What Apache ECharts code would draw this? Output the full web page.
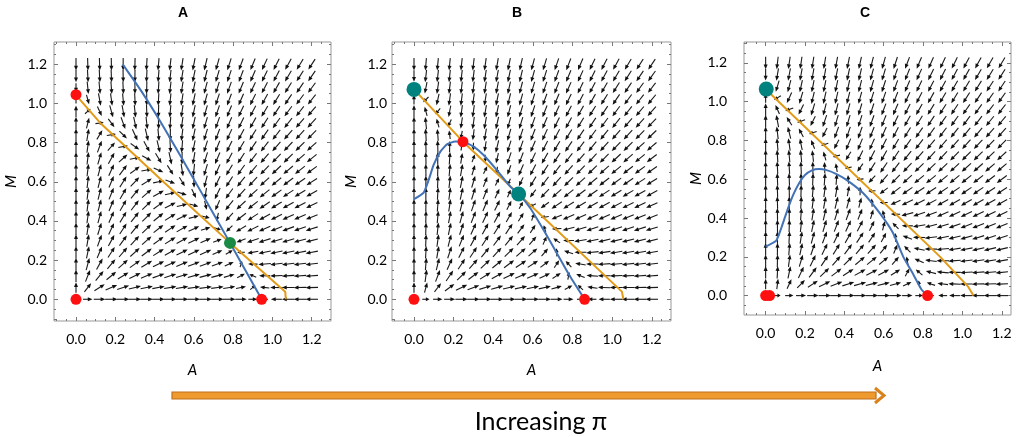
<!DOCTYPE html>
<html>
<head>
<meta charset="utf-8">
<script src="https://cdn.jsdelivr.net/npm/echarts@6/dist/echarts.min.js"></script>
<style>
html, body { margin: 0; padding: 0; background: #fff; }
#chart { width: 1021px; height: 437px; }
</style>
</head>
<body>
<div id="chart"></div>
<script>
// ticks on every side of the frames
const tickMajor = [0, 0.2, 0.4, 0.6, 0.8, 1.0, 1.2]
const tickMinor = [-0.1, -0.05, 0.05, 0.1, 0.15, 0.25, 0.3, 0.35, 0.45, 0.5, 0.55, 0.65, 0.7, 0.75, 0.85, 0.9, 0.95, 1.05, 1.1, 1.15, 1.25, 1.3]
// grid of the vector field (same steps for A and M)
const fieldSteps = [0, 0.06, 0.12, 0.18, 0.24, 0.3, 0.36, 0.42, 0.48, 0.54, 0.6, 0.66, 0.72, 0.78, 0.84, 0.9, 0.96, 1.02, 1.08, 1.14, 1.2]

// panel A
const aOrangeA = [0, 0.122, 0.45, 0.784, 1.065, 1.068]
const aOrangeM = [1.043, 0.902, 0.595, 0.288, 0.039, 0]
const aBlueA = [0.238, 0.33, 0.43, 0.53, 0.63, 0.784, 0.86, 0.945]
const aBlueM = [1.2, 1.067, 0.907, 0.735, 0.56, 0.288, 0.152, 0]
const aRedA = [0, 0, 0.945]
const aRedM = [0, 1.045, 0]
const aGreenA = [0.784]
const aGreenM = [0.288]

// panel B
const bOrangeA = [0, 0.247, 0.528, 1.049, 1.057]
const bOrangeM = [1.072, 0.805, 0.538, 0.039, 0]
const bBlueA = [0, 0.049, 0.074, 0.099, 0.133, 0.166, 0.208, 0.247, 0.301, 0.351, 0.418, 0.486, 0.528, 0.587, 0.654, 0.721, 0.788, 0.861]
const bBlueM = [0.511, 0.545, 0.609, 0.686, 0.754, 0.791, 0.806, 0.805, 0.78, 0.737, 0.66, 0.575, 0.538, 0.465, 0.354, 0.235, 0.116, 0]
const bRedA = [0, 0.247, 0.861]
const bRedM = [0, 0.805, 0]
const bTealA = [0, 0.528]
const bTealM = [1.072, 0.538]

// panel C
const cOrangeA = [0.003, 0.886, 1.03, 1.056]
const cOrangeM = [1.062, 0.201, 0.045, 0]
const cBlueA = [0, 0.054, 0.08, 0.11, 0.14, 0.17, 0.2, 0.235, 0.27, 0.31, 0.36, 0.411, 0.495, 0.58, 0.648, 0.699, 0.75, 0.793, 0.823]
const cBlueM = [0.253, 0.284, 0.35, 0.44, 0.52, 0.58, 0.622, 0.646, 0.653, 0.647, 0.627, 0.597, 0.529, 0.425, 0.322, 0.201, 0.11, 0.03, 0]
const cRedA = [0, 0.02, 0.823]
const cRedM = [0, 0, 0]
const cTealA = [0.003]
const cTealM = [1.065]

const panels = [
  { title: 'A', titleX: 183, grid: { left: 54, top: 42, width: 277, height: 279 }, xr: [-0.112, 1.298], yr: [-0.111, 1.314], yLabelMargin: 7, xNameGap: 42, yNameGap: 35,
    orange: [aOrangeA, aOrangeM], blue: [aBlueA, aBlueM], red: [aRedA, aRedM], teal: null, green: [aGreenA, aGreenM] },
  { title: 'B', titleX: 517, grid: { left: 392, top: 42, width: 279, height: 279 }, xr: [-0.111, 1.297], yr: [-0.111, 1.314], yLabelMargin: 5, xNameGap: 42, yNameGap: 33,
    orange: [bOrangeA, bOrangeM], blue: [bBlueA, bBlueM], red: [bRedA, bRedM], teal: [bTealA, bTealM], green: null },
  { title: 'C', titleX: 865, grid: { left: 744, top: 42, width: 267, height: 273 }, xr: [-0.110, 1.247], yr: [-0.100, 1.308], yLabelMargin: 17, xNameGap: 44, yNameGap: 36,
    orange: [cOrangeA, cOrangeM], blue: [cBlueA, cBlueM], red: [cRedA, cRedM], teal: [cTealA, cTealM], green: null }
]

const font = 'Lato'
const orangeColor = '#E39A17'
const blueColor = '#4272B5'

const zip = (xs, ys) => xs.map((x, i) => [x, ys[i]])

// piecewise linear along a read curve, end segments extended
function interp (xs, ys, x) {
  const n = xs.length
  let i = 1
  while (i < n - 1 && x > xs[i]) i++
  const t = (x - xs[i - 1]) / (xs[i] - xs[i - 1])
  return ys[i - 1] + t * (ys[i] - ys[i - 1])
}

// arrows: A grows below the blue nullcline, M grows below the orange one
function buildField (p) {
  const oA = p.orange[0].slice(0, -1), oM = p.orange[1].slice(0, -1)
  const data = []
  fieldSteps.forEach(a => {
    fieldSteps.forEach(m => {
      const va = a * (interp(p.blue[0], p.blue[1], a) - m)
      const vm = 2 * m * (interp(oA, oM, a) - m)
      const mag = Math.hypot(va, vm)
      if (mag < 1e-4) return
      const len = 3.5 + 9 * Math.sqrt(Math.min(1, mag / 0.2))
      data.push([a, m, va, vm, len])
    })
  })
  return data
}

function renderArrow (params, api) {
  const a = api.value(0), m = api.value(1)
  const p0 = api.coord([a, m])
  const p1 = api.coord([a + api.value(2) * 0.01, m + api.value(3) * 0.01])
  let ux = p1[0] - p0[0], uy = p1[1] - p0[1]
  const n = Math.hypot(ux, uy)
  if (!n) return
  ux /= n; uy /= n
  const len = api.value(4)
  const tail = [p0[0] - ux * len / 2, p0[1] - uy * len / 2]
  const tip = [p0[0] + ux * len / 2, p0[1] + uy * len / 2]
  const hl = Math.min(4.8, len * 0.5), hw = 2
  const base = [tip[0] - ux * hl, tip[1] - uy * hl]
  return {
    type: 'group',
    children: [
      { type: 'line', shape: { x1: tail[0], y1: tail[1], x2: base[0] + ux, y2: base[1] + uy }, style: { stroke: '#1a1a1a', lineWidth: 1.1 } },
      { type: 'polygon', shape: { points: [tip, [base[0] - uy * hw, base[1] + ux * hw], [base[0] + uy * hw, base[1] - ux * hw]] }, style: { fill: '#111' } }
    ]
  }
}

const inRange = (vals, r) => vals.filter(v => v > r[0] && v < r[1])

const grids = []
const xAxes = []
const yAxes = []
const series = []
const graphics = []

panels.forEach((p, gi) => {
  grids.push(Object.assign({ show: true, borderColor: '#999', borderWidth: 1, backgroundColor: 'transparent' }, p.grid))
  const tickStyle = { color: '#777', width: 1 }
  const common = (r) => ({ gridIndex: gi, type: 'value', min: r[0], max: r[1], axisLine: { show: false, onZero: false }, splitLine: { show: false } })
  const mainX = xAxes.length
  xAxes.push(Object.assign(common(p.xr), {
    position: 'bottom',
    axisTick: { inside: true, length: 4, lineStyle: tickStyle, customValues: tickMajor },
    axisLabel: { customValues: tickMajor, formatter: v => v.toFixed(1), margin: 11, color: '#000', fontFamily: font, fontSize: 14 },
    name: 'A', nameLocation: 'middle', nameGap: p.xNameGap,
    nameTextStyle: { fontFamily: font, fontStyle: 'italic', fontSize: 15, color: '#000' }
  }))
  xAxes.push(Object.assign(common(p.xr), { position: 'bottom', axisTick: { inside: true, length: 2, lineStyle: tickStyle, customValues: inRange(tickMinor, p.xr) }, axisLabel: { show: false } }))
  xAxes.push(Object.assign(common(p.xr), { position: 'top', axisTick: { inside: true, length: 4, lineStyle: tickStyle, customValues: tickMajor }, axisLabel: { show: false } }))
  xAxes.push(Object.assign(common(p.xr), { position: 'top', axisTick: { inside: true, length: 2, lineStyle: tickStyle, customValues: inRange(tickMinor, p.xr) }, axisLabel: { show: false } }))
  const mainY = yAxes.length
  yAxes.push(Object.assign(common(p.yr), {
    position: 'left',
    axisTick: { inside: true, length: 4, lineStyle: tickStyle, customValues: tickMajor },
    axisLabel: { customValues: tickMajor, formatter: v => v.toFixed(1), margin: p.yLabelMargin, color: '#000', fontFamily: font, fontSize: 14 },
    name: 'M', nameLocation: 'middle', nameGap: p.yNameGap,
    nameTextStyle: { fontFamily: font, fontStyle: 'italic', fontSize: 15, color: '#000' }
  }))
  yAxes.push(Object.assign(common(p.yr), { position: 'left', axisTick: { inside: true, length: 2, lineStyle: tickStyle, customValues: inRange(tickMinor, p.yr) }, axisLabel: { show: false } }))
  yAxes.push(Object.assign(common(p.yr), { position: 'right', axisTick: { inside: true, length: 4, lineStyle: tickStyle, customValues: tickMajor }, axisLabel: { show: false } }))
  yAxes.push(Object.assign(common(p.yr), { position: 'right', axisTick: { inside: true, length: 2, lineStyle: tickStyle, customValues: inRange(tickMinor, p.yr) }, axisLabel: { show: false } }))

  const ax = { xAxisIndex: mainX, yAxisIndex: mainY }
  series.push(Object.assign({ type: 'custom', renderItem: renderArrow, data: buildField(p), encode: { x: 0, y: 1 }, z: 1, silent: true }, ax))
  series.push(Object.assign({ type: 'line', data: zip(p.orange[0], p.orange[1]), showSymbol: false, lineStyle: { color: orangeColor, width: 2 }, z: 3, silent: true }, ax))
  series.push(Object.assign({ type: 'line', data: zip(p.blue[0], p.blue[1]), showSymbol: false, smooth: 0.15, lineStyle: { color: blueColor, width: 2 }, z: 3, silent: true }, ax))
  series.push(Object.assign({ type: 'scatter', data: zip(p.red[0], p.red[1]), symbolSize: 11, itemStyle: { color: '#FF1010', opacity: 1 }, z: 5 }, ax))
  if (p.teal) series.push(Object.assign({ type: 'scatter', data: zip(p.teal[0], p.teal[1]), symbolSize: 15, itemStyle: { color: '#00827F', opacity: 1 }, z: 5 }, ax))
  if (p.green) series.push(Object.assign({ type: 'scatter', data: zip(p.green[0], p.green[1]), symbolSize: 12, itemStyle: { color: '#1A8A45', opacity: 1 }, z: 5 }, ax))

  graphics.push({ type: 'text', x: p.titleX, y: 13, style: { text: p.title, font: 'bold 14px "Liberation Sans", Arial', fill: '#000', textAlign: 'center', textVerticalAlign: 'middle', align: 'center', verticalAlign: 'middle' } })
})

// bottom arrow and caption
graphics.push({ type: 'rect', shape: { x: 172, y: 392, width: 704, height: 7 }, style: { fill: '#EE9A2E', stroke: '#C0701A', lineWidth: 1.2 } })
graphics.push({ type: 'polyline', shape: { points: [[875, 388], [884, 395.5], [875, 403]] }, style: { stroke: '#D9821A', lineWidth: 3, fill: null } })
graphics.push({ type: 'text', x: 541, y: 422, style: { text: 'Increasing π', font: '25px Lato', fill: '#000', textAlign: 'center', textVerticalAlign: 'middle', align: 'center', verticalAlign: 'middle' } })

const myChart = echarts.init(document.getElementById('chart'))
myChart.setOption({
  animation: false,
  grid: grids,
  xAxis: xAxes,
  yAxis: yAxes,
  series: series,
  graphic: graphics
})
</script>
</body>
</html>
